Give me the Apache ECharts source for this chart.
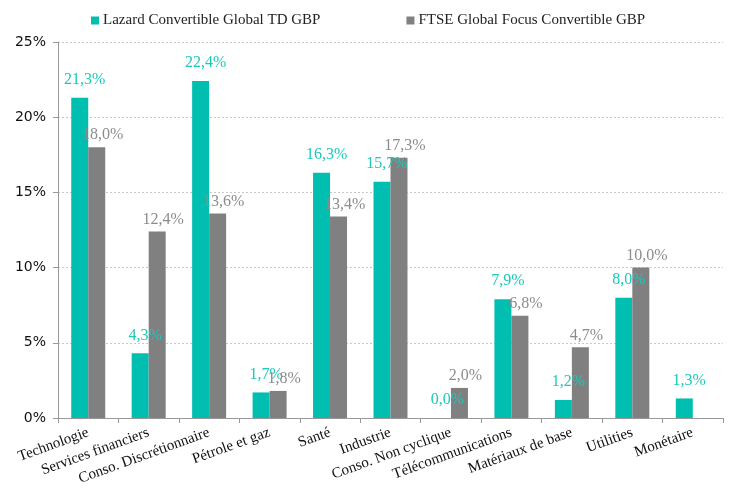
<!DOCTYPE html>
<html><head><meta charset="utf-8">
<script src="https://cdn.jsdelivr.net/npm/echarts@6/dist/echarts.min.js"></script>
<style>html,body{margin:0;padding:0;background:#fff}#c{width:729px;height:497px}</style>
</head><body><div id="c"></div>
<script>
const categories = ['Technologie','Services financiers','Conso. Discrétionnaire','Pétrole et gaz','Santé','Industrie','Conso. Non cyclique','Télécommunications','Matériaux de base','Utilities','Monétaire'];
const lazard = [21.3, 4.3, 22.4, 1.7, 16.3, 15.7, 0.0, 7.9, 1.2, 8.0, 1.3];
const ftse = [18.0, 12.4, 13.6, 1.8, 13.4, 17.3, 2.0, 6.8, 4.7, 10.0, null];
const seriesNames = ['Lazard Convertible Global TD GBP', 'FTSE Global Focus Convertible GBP'];
const yTicks = [0, 5, 10, 15, 20, 25];

const FONT = 'Liberation Serif';
const fmt = p => p.value == null ? '' : p.value.toFixed(1).replace('.', ',') + '%';
const chart = echarts.init(document.getElementById('c'));
chart.setOption({
  animation: false,
  textStyle: { fontFamily: FONT },
  legend: {
    top: 8, left: 86, itemGap: 86, itemWidth: 8, itemHeight: 8,
    icon: 'rect',
    textStyle: { fontFamily: FONT, fontSize: 15, color: '#222', padding: [0, 0, 0, -1] },
    data: seriesNames
  },
  grid: { left: 58, right: 6, top: 42, bottom: 79 },
  xAxis: {
    type: 'category', data: categories,
    axisLine: { lineStyle: { color: '#999' } },
    axisTick: { show: true, length: 5, lineStyle: { color: '#999' } },
    axisLabel: { rotate: 20, interval: 0, fontFamily: FONT, fontSize: 15, color: '#111', margin: 14 }
  },
  yAxis: {
    type: 'value', min: yTicks[0], max: yTicks[yTicks.length - 1], interval: 5,
    axisLine: { show: true, lineStyle: { color: '#999' } },
    axisTick: { show: true, length: 5, lineStyle: { color: '#999' } },
    axisLabel: { formatter: '{value}%', fontFamily: 'DejaVu Sans', fontSize: 14, color: '#111', margin: 12 },
    splitLine: { lineStyle: { color: '#c8c8c8', type: [2, 2] } }
  },
  series: [
    {
      name: seriesNames[0], type: 'bar', data: lazard, barWidth: 17, barGap: '0%',
      itemStyle: { color: '#00BFB0' },
      label: { show: true, position: 'top', distance: 10, offset: [5, 0], formatter: fmt, fontFamily: FONT, fontSize: 16, color: '#1CC9B8' }
    },
    {
      name: seriesNames[1], type: 'bar', data: ftse, barWidth: 17, barGap: '0%',
      itemStyle: { color: '#808080' },
      label: { show: true, position: 'top', distance: 4, offset: [6, 0], formatter: fmt, fontFamily: FONT, fontSize: 16, color: '#8c8c8c' }
    }
  ]
});
</script></body></html>
